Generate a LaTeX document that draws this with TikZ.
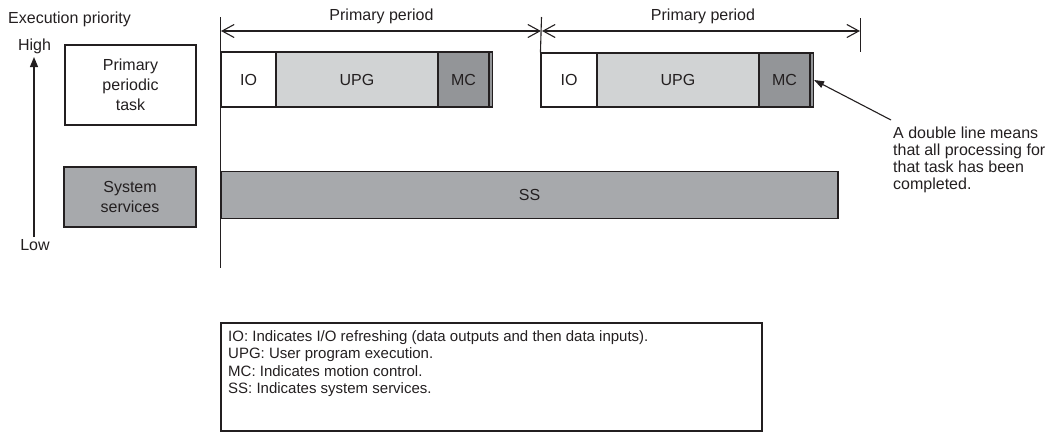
\documentclass[tikz,border=0pt]{standalone}
\usepackage{fontspec}
\setmainfont{Liberation Sans}
\usetikzlibrary{arrows.meta}
\definecolor{ln}{HTML}{231F20}
\definecolor{upg}{HTML}{D1D3D4}
\definecolor{mc}{HTML}{939598}
\definecolor{ss}{HTML}{A7A9AC}
\begin{document}
\begin{tikzpicture}[x=1pt,y=-1pt,
  txt/.style={inner sep=0pt,font=\fontsize{16}{17}\selectfont,text=ln},
  blk/.style={draw=ln,line width=1.1pt,inner sep=0pt,font=\fontsize{16}{20}\selectfont,text=ln},
  per/.style={draw=ln,line width=1.1pt,{Straight Barb[length=12pt,width=13pt,line width=1.1pt]}-{Straight Barb[length=12pt,width=13pt,line width=1.1pt]}},
  thin/.style={draw=ln,line width=1.1pt}]
\useasboundingbox (0,0) rectangle (1055,432);
% axis
\node[txt,anchor=west] (ep) at (8,19) {Execution priority};
\node[txt] (hi) at (34.5,46) {High};
\node[txt] (lo) at (35,245) {Low};
\coordinate (axb) at (34,237);
\coordinate (axt) at (34,57);
\draw[thin,-{Triangle[length=10pt,width=8pt]}] (axb) -- (axt);
% left boxes
\node[blk,fill=white,minimum width=131pt,minimum height=80pt,align=center] (ppt) at (130.5,85) {Primary\\periodic\\task};
\node[blk,fill=ss,minimum width=132pt,minimum height=60pt,align=center] (sys) at (130,197) {System\\services};
% SS bar
\node[blk,fill=ss,minimum width=617pt,minimum height=47pt] (ss) at (529.5,195) {SS};
% first period tasks
\node[blk,fill=white,minimum width=55pt,minimum height=55pt] (io1) at (248.5,79.5) {IO};
\node[blk,fill=upg,minimum width=162pt,minimum height=55pt] (upg1) at (357,79.5) {UPG};
\node[blk,fill=mc,minimum width=51pt,minimum height=55pt] (mc1) at (463.5,79.5) {MC};
\node[blk,fill=mc,minimum width=3.5pt,minimum height=55pt] (dl1) at (490.75,79.5) {};
% second period tasks
\node[blk,fill=white,minimum width=56pt,minimum height=54pt] (io2) at (569,80) {IO};
\node[blk,fill=upg,minimum width=162pt,minimum height=54pt] (upg2) at (678,80) {UPG};
\node[blk,fill=mc,minimum width=51pt,minimum height=54pt] (mc2) at (784.5,80) {MC};
\node[blk,fill=mc,minimum width=3.5pt,minimum height=54pt] (dl2) at (811.75,80) {};
% vertical lines and ticks
\coordinate (v1t) at (220.5,17);
\coordinate (v1b) at (220.5,268);
\coordinate (v2t) at (541.5,17);
\coordinate (v3t) at (860.5,18);
\coordinate (v3b) at (860.5,52);
\draw[thin] (v1t) -- (v1b);
\draw[thin] (v2t) -- (io2.north west);
\draw[thin] (v3t) -- (v3b);
% periods
\coordinate (p1l) at (221,31);
\coordinate (p1r) at (541,31);
\coordinate (p2l) at (542,31);
\coordinate (p2r) at (860,31);
\draw[per] (p1l) -- (p1r);
\draw[per] (p2l) -- (p2r);
\node[txt] (pl1) at (381.5,16) {Primary period};
\node[txt] (pl2) at (703,16) {Primary period};
% annotation
\node[txt,anchor=north west,align=left] (ann) at (893,127) {A double line means\\that all processing for\\that task has been\\completed.};
\coordinate (annt) at (891,120);
\draw[thin,-{Triangle[length=10pt,width=7pt]}] (annt) -- (dl2.east);
% legend
\node[draw=ln,line width=1.1pt,minimum width=541pt,minimum height=108pt,inner sep=0pt] (leg) at (491.5,377) {};
\node[inner sep=0pt,anchor=north west,align=left,text=ln,font=\fontsize{15}{17.5}\selectfont] (legt) at (228,330) {IO: Indicates I/O refreshing (data outputs and then data inputs).\\UPG: User program execution.\\MC: Indicates motion control.\\SS: Indicates system services.};
\end{tikzpicture}
\end{document}
